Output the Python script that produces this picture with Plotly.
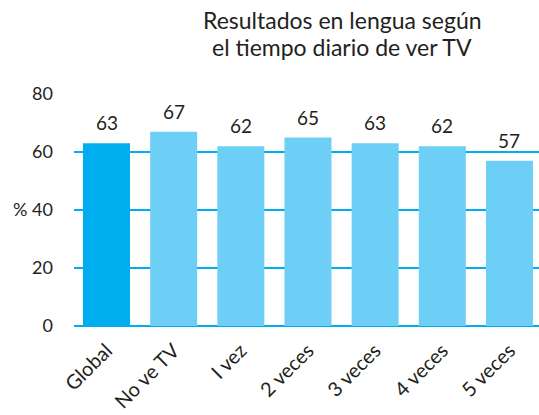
import plotly.graph_objects as go

# Lengua scores by daily TV viewing frequency
categories = ["Global", "No ve TV", "I vez", "2 veces", "3 veces", "4 veces", "5 veces"]
values = [63, 67, 62, 65, 63, 62, 57]
bar_colors = ["#00AEEF", "#6DCFF6", "#6DCFF6", "#6DCFF6", "#6DCFF6", "#6DCFF6", "#6DCFF6"]
y_ticks = [0, 20, 40, 60, 80]
y_tick_text = ["0", "20", "% 40", "60", "80"]
title_lines = ["Resultados en lengua según", "el tiempo diario de ver TV"]

FONT = "Lato"
TEXT = "#231F20"
GRID = "#00AEEF"

x_pos = list(range(len(categories)))

fig = go.Figure(
    go.Bar(
        x=x_pos,
        y=values,
        marker=dict(color=bar_colors, line=dict(width=0)),
        width=0.70,
        hoverinfo="skip",
    )
)

# value labels above each bar
for xi, v in zip(x_pos, values):
    fig.add_annotation(
        x=xi, y=v, text=str(v), showarrow=False,
        yanchor="bottom", yshift=7,
        font=dict(family=FONT, size=19, color=TEXT),
    )

# two-line title, centred over the bars
for line, ypos in zip(title_lines, [1.319, 1.2026]):
    fig.add_annotation(
        x=311 / 539, xref="paper", y=ypos, yref="paper",
        text=line, showarrow=False, xanchor="center", yanchor="middle",
        font=dict(family=FONT, size=23, color=TEXT),
    )

fig.update_layout(
    width=539,
    height=415,
    margin=dict(l=74, r=0, t=94, b=89),
    paper_bgcolor="white",
    plot_bgcolor="white",
    showlegend=False,
    xaxis=dict(
        tickmode="array",
        tickvals=x_pos,
        ticktext=categories,
        tickangle=-45,
        range=[-0.484, 6.44],
        showgrid=False,
        zeroline=False,
        showline=False,
        ticks="",
        ticklabelstandoff=8,
        tickfont=dict(family=FONT, size=20, color=TEXT),
    ),
    yaxis=dict(
        range=[0, 80],
        tickmode="array",
        tickvals=y_ticks,
        ticktext=y_tick_text,
        showgrid=True,
        gridcolor=GRID,
        gridwidth=1.5,
        zeroline=True,
        zerolinecolor=GRID,
        zerolinewidth=1.5,
        showline=False,
        ticks="",
        ticklabelstandoff=20,
        tickfont=dict(family=FONT, size=18, color=TEXT),
    ),
)

fig.write_html("out.html")
